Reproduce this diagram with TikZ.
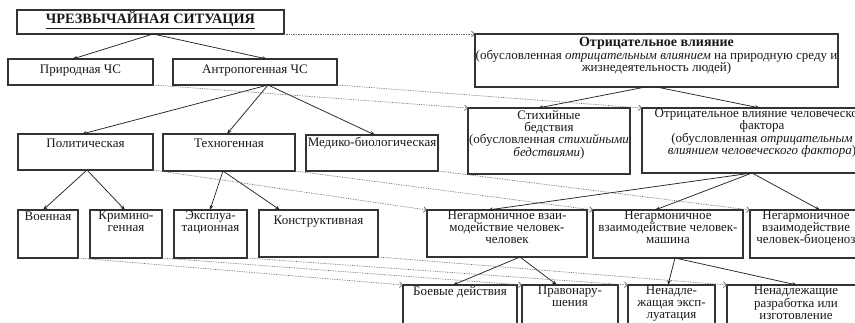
\documentclass[tikz,border=0pt]{standalone}
\usepackage{fontspec}
\setmainfont{Liberation Serif}
\usetikzlibrary{arrows.meta}
\tikzset{
 boxst/.style={draw=black!80, line width=1.15pt, inner sep=0pt, outer sep=0pt},
 lbl/.style={inner sep=0pt, align=center, font=\fontsize{13}{12}\selectfont, text=black!90},
 arr/.style={draw=black!85, line width=0.75pt, -{Stealth[length=5pt,width=3.6pt]}},
 dotarr/.style={draw=black!60, line width=0.7pt, densely dotted, -{Straight Barb[length=3pt,width=5.5pt]}},
}
\newcommand\mkbox[7]{%
  \node[boxst, anchor=north west, minimum width={(#4-#2)*1pt}, minimum height={(#5-#3)*1pt}] (#1) at (#2,#3) {};
  \node[lbl, anchor=north] (#1t) at ([yshift=-#6pt]#1.north) {#7};
}
\begin{document}
\begin{tikzpicture}[x=1pt,y=-1pt]
\useasboundingbox (0,0) rectangle (855,323);
\clip (0,0) rectangle (855,323);
\fill[white] (0,0) rectangle (855,323);

\mkbox{chs}{17}{10}{284}{34}{1.5}{{\fontsize{14.3}{13}\selectfont\bfseries\underline{ЧРЕЗВЫЧАЙНАЯ СИТУАЦИЯ}}}
\mkbox{prir}{8}{59}{153}{85}{5.5}{Природная ЧС}
\mkbox{antr}{173}{59}{337}{85}{5.5}{Антропогенная ЧС}
\mkbox{otr}{475}{34}{838}{87}{2.8}{{\fontsize{14}{12}\selectfont\bfseries Отрицательное влияние}\\(обусловленная \textit{отрицательным влиянием} на природную среду и\\жизнедеятельность людей)}
\mkbox{pol}{18}{134}{153}{170}{5}{Политическая}
\mkbox{tech}{163}{134}{295}{171}{5}{Техногенная}
\mkbox{med}{306}{135}{438}{171}{1.5}{Медико-биологическая}
\mkbox{stix}{468}{108}{630}{174}{2}{Стихийные\\бедствия\\(обусловленная \textit{стихийными}\\\textit{бедствиями})}
\mkbox{otrch}{642}{108}{882}{173}{0.5}{Отрицательное влияние человеческого\\фактора\\(обусловленная \textit{отрицательным}\\\textit{влиянием человеческого фактора})}
\mkbox{voen}{18}{210}{78}{258}{2}{Военная}
\mkbox{krim}{90}{210}{162}{258}{1}{Кримино-\\генная}
\mkbox{expl}{174}{210}{247}{258}{1}{Эксплуа-\\тационная}
\mkbox{konstr}{259}{210}{378}{257}{6}{Конструктивная}
\mkbox{nch}{427}{210}{587}{257}{1}{Негармоничное взаи-\\модействие человек-\\человек}
\mkbox{nm}{593}{210}{743}{258}{1}{Негармоничное\\взаимодействие человек-\\машина}
\mkbox{nb}{750}{210}{862}{258}{1}{Негармоничное\\взаимодействие\\человек-биоценоз}
\mkbox{boev}{403}{285}{517}{340}{1}{Боевые действия}
\mkbox{prav}{522}{285}{618}{340}{1}{Правонару-\\шения}
\mkbox{nexpl}{628}{285}{715}{340}{1}{Ненадле-\\жащая эксп-\\луатация}
\mkbox{nrazr}{727}{285}{865}{340}{1}{Ненадлежащие\\разработка или\\изготовление}

% solid connectors
\draw[arr] ([xshift=2.5pt]chs.south) -- ([xshift=-8pt]prir.north);
\draw[arr] ([xshift=2.5pt]chs.south) -- ([xshift=12pt]antr.north);
\draw[arr] ([xshift=13pt]antr.south) -- ([xshift=-3.5pt]pol.north);
\draw[arr] ([xshift=13pt]antr.south) -- ([xshift=-2pt]tech.north);
\draw[arr] ([xshift=13pt]antr.south) -- ([xshift=3pt]med.north);
\draw[arr] ([xshift=1.5pt]pol.south) -- ([xshift=-5pt]voen.north);
\draw[arr] ([xshift=1.5pt]pol.south) -- ([xshift=-1pt]krim.north);
\draw[arr] ([xshift=-6pt]tech.south) -- ([xshift=-0.5pt]expl.north);
\draw[arr] ([xshift=-6pt]tech.south) -- ([xshift=-38.5pt]konstr.north);
\draw[arr] ([xshift=-11pt]otr.south) -- ([xshift=-11pt]stix.north);
\draw[arr] (otr.south) -- ([xshift=-2pt]otrch.north);
\draw[arr] ([xshift=-10pt]otrch.south) -- ([xshift=-19pt]nch.north);
\draw[arr] ([xshift=-10pt]otrch.south) -- ([xshift=-13pt]nm.north);
\draw[arr] ([xshift=-10pt]otrch.south) -- ([xshift=14pt]nb.north);
\draw[arr] ([xshift=13pt]nch.south) -- ([xshift=-7pt]boev.north);
\draw[arr] ([xshift=13pt]nch.south) -- ([xshift=-13pt]prav.north);
\draw[arr] ([xshift=7pt]nm.south) -- ([xshift=-3.5pt]nexpl.north);
\draw[arr] ([xshift=7pt]nm.south) -- ([xshift=1pt]nrazr.north);

% dotted connectors
\draw[dotarr] (chs.south east) -- (otr.north west);
\draw[dotarr] (prir.south east) -- (stix.north west);
\draw[dotarr] (antr.south east) -- (otrch.north west);
\draw[dotarr] (pol.south east) -- (nch.north west);
\draw[dotarr] (tech.south east) -- (nm.north west);
\draw[dotarr] (med.south east) -- (nb.north west);
\draw[dotarr] (voen.south east) -- (boev.north west);
\draw[dotarr] (krim.south east) -- (prav.north west);
\draw[dotarr] (expl.south east) -- (nexpl.north west);
\draw[dotarr] (konstr.south east) -- (nrazr.north west);
\end{tikzpicture}
\end{document}
